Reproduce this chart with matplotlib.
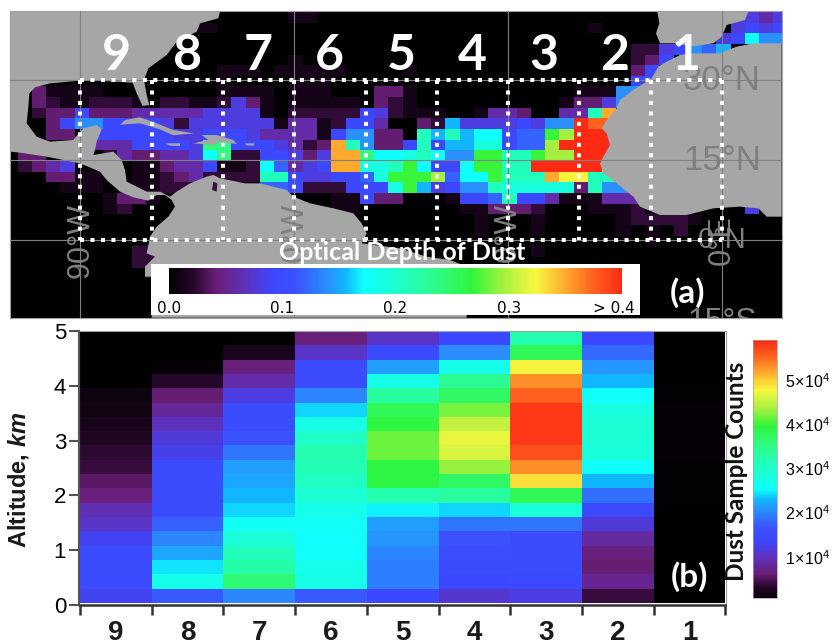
import numpy as np
import matplotlib
matplotlib.use("Agg")
import matplotlib.pyplot as plt
from matplotlib.colors import LinearSegmentedColormap, Normalize
from matplotlib.patches import Polygon

plt.rcParams['font.family'] = ['Liberation Sans', 'DejaVu Sans']
plt.rcParams['mathtext.fontset'] = 'custom'
plt.rcParams['mathtext.bfit'] = 'Liberation Sans:italic:bold'
plt.rcParams['mathtext.rm'] = 'Liberation Sans'

W, H = 840, 644

## Optical depth per letter
depth_levels = dict(a=.012, b=.025, c=.04, d=.06, e=.08, f=.095, g=.12, h=.14, i=.155,
                    j=.172, k=.19, l=.21, m=.24, n=.27, o=.295, p=.325, q=.35, r=.375, s=.4)

# 2 degree cells: (row from the top, first column, letters)
dust_runs = [
    (0, 20, "aa"), (0, 51, "eede"),
    (1, 13, "aa"), (1, 41, "a"), (1, 51, "efef"),
    (2, 50, "efjhh"),
    (3, 44, "bbef"), (3, 48, "hgi"),
    (4, 20, "a"), (4, 44, "bcf"),
    (5, 15, "aaa"), (5, 19, "aaaaa"), (5, 28, "a"), (5, 44, "cf"),
    (6, 15, "a"), (6, 20, "aaa"), (6, 44, "ff"),
    (7, 2, "c"), (7, 3, "aaaa"), (7, 15, "aaaa"), (7, 20, "aaa"), (7, 26, "cca"), (7, 40, "aaahh"),
    (8, 2, "cbaabbba"), (8, 11, "bbaabeca"), (8, 20, "aaaaa"), (8, 26, "cba"), (8, 39, "acceh"),
    (9, 2, "bcc"), (9, 5, "fcccdddddeeeea"), (9, 20, "bbbbbfeba"), (9, 29, "aa"), (9, 33, "addc"), (9, 39, "ddlq"),
    (10, 3, "cfhhffffe"), (10, 12, "beeeeeea"), (10, 20, "ddabffd"), (10, 29, "cb"), (10, 31, "ieeeefe"), (10, 38, "hhsrr"),
    (11, 3, "cc"), (11, 6, "ffffffeefffeddddafhhcc"), (11, 29, "lilijjfggnosss"),
    (12, 6, "dddffffee"), (12, 14, "mmfffedbc"), (12, 23, "qlhccflfiikkfgg"), (12, 38, "ossss"),
    (13, 1, "cc"), (13, 7, "bdccddej"), (13, 15, "mbbffece"), (13, 23, "qqmjjkljhhnnllnoosss"),
    (14, 1, "bcde"), (14, 9, "aacddf"), (14, 15, "aabjgdef"), (14, 23, "qqkklnjffjnnllssssso"),
    (15, 3, "cc"), (15, 5, "aa"), (15, 9, "aabcd"), (15, 14, "bbbbllfeeffg"), (15, 26, "knnnogjjnlllqpplll"),
    (16, 4, "aaa"), (16, 9, "aabb"), (16, 18, "gg"), (16, 20, "fbbbfff"), (16, 27, "kniefhhlkkkkkclhhh"),
    (17, 7, "acca"), (17, 23, "aafcc"), (17, 31, "affglffdaaaddd"),
    (18, 7, "ab"), (18, 23, "aa"), (18, 32, "aacccb"), (18, 41, "aaab"), (18, 45, "a"), (18, 52, "e"),
    (19, 33, "a"), (19, 37, "a"), (19, 43, "abbbba"),
    (20, 33, "a"), (20, 37, "a"), (20, 43, "a"), (20, 45, "a"), (20, 47, "b"),
    (21, 45, "a"),
    (22, 9, "bb"), (22, 37, "a"),
    (23, 9, "bb"),
    (24, 10, "b"),
]

## Dust counts per region (units of 1e4), top of the column first
region_labels = ['9', '8', '7', '6', '5', '4', '3', '2', '1']
col_9 = [0, 0, 0, 0, .12, .15, .2, .25, .35, .4, .55, .65, .95, 1.05, 1.3, 1.5, 1.5, 1.5, 1.3]
col_8 = [0, 0, .05, .3, .6, .8, 1.0, 1.15, 1.25, 1.5, 1.5, 1.5, 1.5, 1.75, 2.0, 2.2, 2.45, 2.7, 1.7]
col_7 = [0, .2, .65, .9, 1.2, 1.5, 1.5, 1.65, 1.9, 2.15, 2.2, 2.3, 2.4, 2.6, 2.85, 3.1, 3.25, 3.6, 2.0]
col_6 = [.65, 1.05, 1.5, 1.5, 2.0, 2.4, 2.75, 3.0, 3.2, 3.15, 3.05, 2.9, 2.7, 2.6, 2.55, 2.55, 2.7, 2.75, 1.7]
col_5 = [1.05, 1.45, 2.15, 2.75, 3.3, 3.8, 3.9, 4.15, 4.15, 3.9, 3.9, 3.2, 2.5, 2.15, 2.1, 2.0, 1.95, 1.95, 1.4]
col_4 = [1.4, 2.05, 2.7, 3.4, 3.7, 4.2, 4.5, 4.7, 4.6, 4.3, 3.7, 3.3, 2.4, 1.9, 1.65, 1.55, 1.5, 1.4, 1.1]
col_3 = [3.2, 3.8, 4.8, 5.3, 5.55, 5.8, 5.8, 5.8, 5.65, 5.3, 4.9, 3.8, 2.85, 1.9, 1.5, 1.5, 1.5, 1.45, 1.2]
col_2 = [1.4, 1.8, 2.1, 2.3, 2.55, 2.8, 2.9, 2.9, 2.85, 2.55, 2.3, 1.85, 1.45, 1.15, .85, .65, .6, .75, .4]
col_1 = [0, 0, 0, 0, .04, .05, .04, .05, .05, .04, .04, .03, 0, 0, 0, 0, 0, 0, 0]

cmap_stops = [(0, '#000000'), (.055, '#28082c'), (.105, '#6a1f78'), (.165, '#6030b8'),
              (.23, '#3c46ff'), (.28, '#3a52ff'), (.35, '#2a90ff'), (.39, '#10b8ff'),
              (.43, '#10ffff'), (.52, '#20ffc0'), (.60, '#30fa80'), (.67, '#2ff53c'),
              (.74, '#a8f040'), (.81, '#f8f840'), (.87, '#ffb030'), (.93, '#ff6a20'),
              (1, '#ff2a14')]
dust_cmap = LinearSegmentedColormap.from_list('dust', cmap_stops, N=512)

# coast outlines, read in 3x zoomed picture pixels
americas = [(30, 35), (660, 35), (655, 55), (600, 70), (590, 95), (530, 125), (500, 165), (445, 205),
            (432, 240), (440, 285), (448, 315), (428, 318), (410, 280), (398, 248), (260, 240),
            (150, 250), (105, 262), (88, 280), (85, 320), (80, 370), (110, 410), (150, 425), (220, 420),
            (240, 395), (250, 385), (290, 375), (305, 388), (290, 425), (285, 450), (280, 465), (340, 455),
            (365, 480), (375, 510), (380, 545), (410, 560), (440, 575), (480, 575), (510, 590), (530, 575),
            (570, 550), (620, 530), (640, 525), (660, 535), (735, 550), (780, 550), (860, 570), (880, 590),
            (930, 610), (1000, 625), (1060, 640), (1085, 670), (1100, 700), (1085, 730), (1200, 745),
            (1280, 770), (1350, 780), (1400, 800), (1400, 953), (455, 953), (455, 830), (435, 830),
            (435, 800), (465, 770), (440, 760), (450, 710), (470, 680), (505, 650), (525, 620), (515, 600),
            (495, 585), (470, 585), (445, 602), (400, 592), (360, 575), (320, 540), (300, 515), (240, 490),
            (140, 470), (60, 458), (30, 455)]
cuba = [(360, 375), (375, 360), (420, 352), (470, 370), (520, 390), (582, 400), (520, 406), (480, 388),
        (420, 370), (375, 373)]
jamaica = [(495, 430), (540, 430), (540, 438), (510, 437)]
hispaniola = [(605, 405), (650, 405), (700, 420), (710, 432), (660, 425), (640, 435), (580, 430), (625, 420)]
puerto_rico = [(735, 430), (765, 430), (760, 437), (738, 436)]
iberia = [(1972, 35), (2245, 35), (2235, 60), (2180, 75), (2165, 110), (2140, 130), (2070, 140), (2035, 130),
          (1980, 130), (1968, 100), (1978, 70)]
africa = [(2345, 130), (2260, 130), (2210, 140), (2160, 160), (2070, 160), (2040, 165), (2000, 185), (1975, 200),
          (1955, 235), (1900, 270), (1860, 300), (1850, 325), (1820, 360), (1805, 385), (1820, 400), (1830, 435),
          (1810, 470), (1800, 490), (1810, 520), (1850, 550), (1900, 590), (1920, 620), (1980, 645), (2060, 645),
          (2140, 625), (2220, 620), (2275, 625), (2300, 650), (2345, 650)]
land_shapes = [americas, cuba, jamaica, hispaniola, puerto_rico, iberia, africa]
maracaibo = [(640, 545), (652, 550), (650, 575), (636, 570)]


def zoom_to_lonlat(points):
    pts = np.array(points, dtype=float)
    return np.column_stack([(pts[:, 0] / 3 - 722) / 7.13, (240 - pts[:, 1] / 3) / 5.33])


def add_axes_px(fig, left, top, right, bottom):
    return fig.add_axes([left / W, 1 - bottom / H, (right - left) / W, (bottom - top) / H])


fig = plt.figure(figsize=(W / 100, H / 100), dpi=100, facecolor='white')

## Panel (a), the map
ax_map = add_axes_px(fig, 10, 11, 782, 318)
ax_map.set_facecolor('black')
lon_edges = -100.8 + 2 * np.arange(56)
lat_edges = 42.8 - 2 * np.arange(26)
dust_grid = np.zeros((25, 55))
for row, start, cells in dust_runs:
    dust_grid[row, start:start + len(cells)] = [depth_levels[c] for c in cells]
depth_norm = Normalize(0, 0.4)
depth_mesh = ax_map.pcolormesh(lon_edges, lat_edges, dust_grid, cmap=dust_cmap, norm=depth_norm, zorder=1)
for shape in land_shapes:
    ax_map.add_patch(Polygon(zoom_to_lonlat(shape), closed=True, fc='#a6a6a6', ec='none', zorder=2))
ax_map.add_patch(Polygon(zoom_to_lonlat(maracaibo), closed=True, fc='#3a0f44', ec='none', zorder=3))
ax_map.set_xlim((10 - 722) / 7.13, (782 - 722) / 7.13)
ax_map.set_ylim((240 - 318) / 5.33, (240 - 11) / 5.33)
ax_map.set_xticks([])
ax_map.set_yticks([])
for spine in ax_map.spines.values():
    spine.set_color('#a0a0a0')
    spine.set_linewidth(0.8)

for lon in [-90, -60, -30, 0]:
    ax_map.axvline(lon, color='#808080', lw=0.8, zorder=3)
for lat in [30, 15, 0]:
    ax_map.axhline(lat, color='#808080', lw=0.8, zorder=3)

grid_kw = dict(color='#7f7f7f', ha='center', va='center', zorder=4, clip_on=True)
ax_map.text(0, 30, '30°N', fontsize=25, **grid_kw)
ax_map.text(0, 15, '15°N', fontsize=25, **grid_kw)
ax_map.text(0, 45, '45°N', fontsize=23, **grid_kw)
ax_map.text(0, -15.4, '15°S', fontsize=23, **grid_kw)
ax_map.text(0, 0, '0°N', fontsize=21, **grid_kw)
for lon, label in [(-90, '90°W'), (-60, '60°W'), (-30, '30°W'), (0, '0°E')]:
    ax_map.text(lon, 0, label, fontsize=22, rotation=90, **grid_kw)

# region boxes, 10 degrees wide, with the dust region number above
region_edges = np.linspace(-90, 0, 10)
dot_kw = dict(color='white', lw=2.9, ls=(0, (1, 1.6)), zorder=5)
ax_map.plot([-90, 0], [30, 30], **dot_kw)
ax_map.plot([-90, 0], [0, 0], **dot_kw)
for lon in region_edges:
    ax_map.plot([lon, lon], [30, 0], **dot_kw)
region_centers = (region_edges[:-1] + region_edges[1:]) / 2
for lon, label in zip(region_centers, region_labels):
    ax_map.text(lon, 34.7, label, color='white', fontsize=36, fontweight='bold', family='Lato',
                ha='center', va='center', zorder=6)
ax_map.text((688 - 722) / 7.13, (240 - 293) / 5.33, '(a)', color='white', fontsize=24, fontweight='bold',
            family='Lato', ha='center', va='center', zorder=6)
ax_map.text((402 - 722) / 7.13, (240 - 253) / 5.33, 'Optical Depth of Dust', color='white', fontsize=18,
            fontweight='bold', family='Lato', ha='center', va='center', zorder=6)

# colour scale box
ax_box = add_axes_px(fig, 151, 264, 640, 315)
ax_box.set_xticks([])
ax_box.set_yticks([])
ax_box.set_facecolor('white')
for spine in ax_box.spines.values():
    spine.set_visible(False)
cax_a = add_axes_px(fig, 169, 268, 622, 294)
cbar_a = fig.colorbar(depth_mesh, cax=cax_a, orientation='horizontal')
cbar_a.set_ticks([0, .1, .2, .3, .393])
cbar_a.set_ticklabels(['0.0', '0.1', '0.2', '0.3', '> 0.4'])
cbar_a.ax.tick_params(length=0, pad=5, labelsize=11, labelfontfamily='DejaVu Sans')
cbar_a.outline.set_visible(False)

## Panel (b), dust counts by altitude
ax_b = add_axes_px(fig, 80, 331, 725.5, 605)
columns = [col_9, col_8, col_7, col_6, col_5, col_4, col_3, col_2, col_1]
counts = np.array(columns).T * 1e4
alt_edges = np.linspace(5, 0.04, 20)
count_norm = Normalize(0, 5.9e4)
count_mesh = ax_b.pcolormesh(np.arange(10), alt_edges, counts, cmap=dust_cmap, norm=count_norm)
ax_b.set_xlim(0, 9)
ax_b.set_ylim(0, 5)
ax_b.set_xticks(np.arange(10))
ax_b.set_xticklabels([])
ax_b.set_xticks(np.arange(9) + 0.5, labels=region_labels, minor=True, fontweight='bold', color='#1a1a1a')
ax_b.tick_params(axis='x', which='major', length=7, width=1.8, color='#333333')
ax_b.tick_params(axis='x', which='minor', length=0, pad=10.5, labelsize=20)
ax_b.set_yticks(range(6), labels=['0', '1', '2', '3', '4', '5'], fontweight='bold', color='#1a1a1a')
ax_b.tick_params(axis='y', length=7, width=1.5, color='#555555', pad=2, labelsize=16)
ax_b.spines['left'].set_position(('outward', 1))
ax_b.spines['left'].set_linewidth(1.5)
ax_b.spines['left'].set_color('#555555')
ax_b.spines['bottom'].set_linewidth(1.8)
ax_b.spines['bottom'].set_color('#333333')
ax_b.spines['top'].set_color('#a0a0a0')
ax_b.spines['right'].set_color('#a0a0a0')
ax_b.text(8.5, 0.52, '(b)', color='white', fontsize=24, fontweight='bold', family='Lato',
          ha='center', va='center')
fig.text(19 / W, 1 - 480 / H, r'Altitude, $\mathbfit{km}$', rotation=90, fontsize=17, fontweight='bold',
         color='#1a1a1a', ha='center', va='center')

cax_b = add_axes_px(fig, 753, 340, 777, 598)
cbar_b = fig.colorbar(count_mesh, cax=cax_b, boundaries=np.linspace(0.07e4, 5.9e4, 256))
cbar_b.set_ticks([1e4, 2e4, 3e4, 4e4, 5e4])
cbar_b.set_ticklabels([r'$\mathrm{%d\!\times\!10^4}$' % n for n in range(1, 6)])
cbar_b.ax.tick_params(length=0, pad=6, labelsize=11.5)
cbar_b.outline.set_edgecolor('#a0a0a0')
cbar_b.outline.set_linewidth(0.5)
fig.text(737 / W, 1 - 471 / H, 'Dust Sample Counts', rotation=90, fontsize=17.5, fontweight='bold', family='Lato',
         color='#111111', ha='center', va='center')

fig.savefig('out.png', dpi=100)
